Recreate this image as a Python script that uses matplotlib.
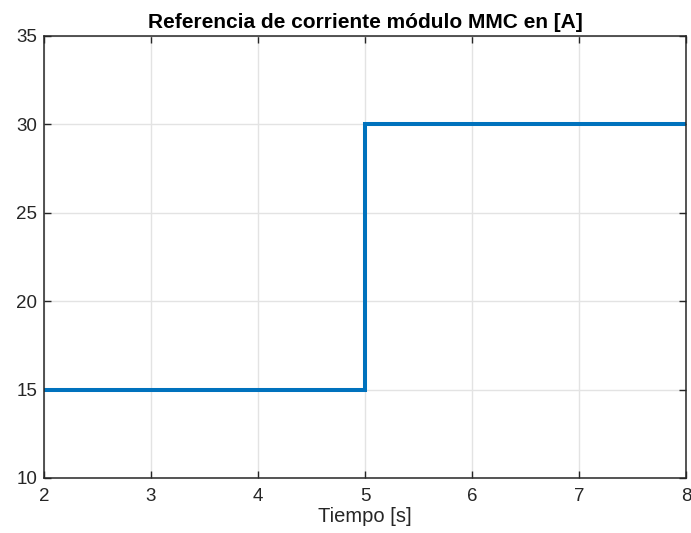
import matplotlib
matplotlib.use("Agg")
import matplotlib.pyplot as plt

# step reference data
time_s = [2, 5, 5, 8]
current_a = [15, 15, 30, 30]

x_ticks = [2, 3, 4, 5, 6, 7, 8]
y_ticks = [10, 15, 20, 25, 30, 35]

LINE_COLOR = "#0072BD"
GRID_COLOR = "#E3E3E3"
AXIS_COLOR = "#262626"

plt.rcParams["font.family"] = ["Liberation Sans", "DejaVu Sans"]

fig = plt.figure(figsize=(6.91, 5.33), dpi=100)
ax = fig.add_axes([0.0637, 0.1032, 0.9291, 0.8293])

ax.plot(time_s, current_a, color=LINE_COLOR, linewidth=2.9, solid_joinstyle="miter")

ax.set_xlim(2, 8)
ax.set_ylim(10, 35)
ax.set_xticks(x_ticks)
ax.set_yticks(y_ticks)

ax.grid(True, color=GRID_COLOR, linewidth=1)
ax.set_axisbelow(True)

for sp in ax.spines.values():
    sp.set_color(AXIS_COLOR)
    sp.set_linewidth(1.1)

ax.tick_params(direction="in", top=True, right=True, length=5, width=1,
               colors=AXIS_COLOR, labelsize=13.5, pad=5)
ax.tick_params(axis="x", pad=7)

ax.set_title("Referencia de corriente módulo MMC en [A]", fontsize=15,
             fontweight="bold", color="#000000", pad=6)
ax.set_xlabel("Tiempo [s]", fontsize=14.5, color=AXIS_COLOR, labelpad=2)

fig.savefig("out.png", dpi=100)
